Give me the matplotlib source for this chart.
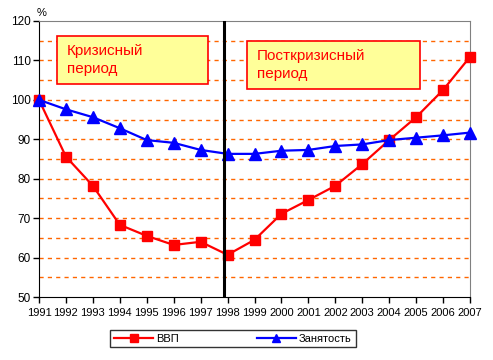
import matplotlib
matplotlib.use("Agg")
import matplotlib.pyplot as plt

years = list(range(1991, 2008))
gdp = [100, 85.6, 78.2, 68.3, 65.5, 63.2, 64.0, 60.7, 64.5, 71.1, 74.6, 78.2, 83.7, 89.8, 95.6, 102.5, 110.9]
employment = [100, 97.6, 95.6, 92.8, 89.8, 89.1, 87.3, 86.3, 86.3, 87.1, 87.3, 88.3, 88.7, 89.8, 90.4, 91.0, 91.7]
series_labels = ["ВВП", "Занятость"]
box_texts = ["Кризисный\nпериод", "Посткризисный\nпериод"]
divider_year = 1997.87

plt.rcParams['font.family'] = ['Liberation Sans', 'DejaVu Sans']

fig = plt.figure(figsize=(4.93, 3.6), dpi=100)
ax = fig.add_axes([39/493, 1-297/360, (470-39)/493, (297-21)/360])

# gridlines
for v in range(55, 120, 5):
    ax.axhline(v, color='#FF6600', lw=1, ls=(0, (3, 3)), zorder=1)

ax.plot(years, gdp, color='#FF0000', lw=1.6, marker='s', ms=7, mec='#FF0000', mfc='#FF0000',
        zorder=3, label=series_labels[0], clip_on=False)
ax.plot(years, employment, color='#0000FF', lw=1.6, marker='^', ms=8.5, mec='#0000FF', mfc='#0000FF',
        zorder=4, label=series_labels[1], clip_on=False)

ax.axvline(divider_year, color='black', lw=2.2, zorder=5)

ax.set_xlim(1991, 2007)
ax.set_ylim(50, 120)
ax.set_xticks(years)
ax.set_xticklabels([str(y) for y in years], fontsize=8)
ax.set_yticks(range(50, 121, 10))
ax.tick_params(axis='y', labelsize=8.5, length=4, width=1, direction='out', pad=2)
ax.tick_params(axis='x', length=4, width=1, direction='out', pad=4)

ax.spines['left'].set_color('black')
ax.spines['bottom'].set_color('black')
ax.spines['top'].set_color('#808080')
ax.spines['right'].set_color('#808080')

fig.text(42/493, 1-13/360, "%", fontsize=8, ha='center', va='center')

# text boxes (figure pixel coords)
def box(x0, y0, x1, y1, text):
    fig.patches.append(plt.Rectangle((x0/493, 1-y1/360), (x1-x0)/493, (y1-y0)/360,
                                     transform=fig.transFigure, facecolor='#FFFF99',
                                     edgecolor='#FF0000', lw=1.2, zorder=10))
    fig.text((x0+10)/493, 1-((y0+y1)/2)/360, text, fontsize=11, color='#FF0000',
             ha='left', va='center', linespacing=1.3, zorder=11)

box(57, 36, 208, 84, box_texts[0])
box(247, 41, 420, 89, box_texts[1])

leg = fig.legend(loc='center', bbox_to_anchor=(233/493, 1-338.5/360), ncol=2, fontsize=8,
                 frameon=True, fancybox=False, edgecolor='black', handlelength=3.5,
                 columnspacing=7, borderpad=0.35, handletextpad=0.3)
leg.get_frame().set_linewidth(1)
for h in leg.legend_handles:
    h.set_markersize(6)

fig.savefig("out.png", dpi=100)
